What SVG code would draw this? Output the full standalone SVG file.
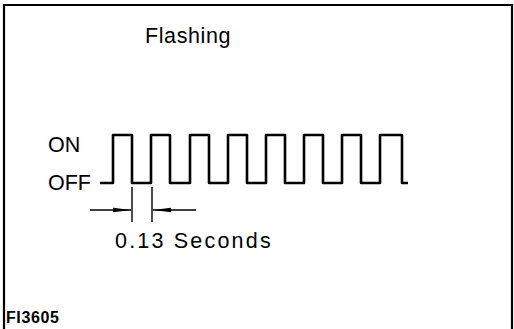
<svg xmlns="http://www.w3.org/2000/svg" width="514" height="329" viewBox="0 0 514 329">
<style>
.t{font-family:"Liberation Sans",Arial,sans-serif;fill:#000}
.w{fill:none;stroke:#000;stroke-width:2.6;stroke-linejoin:round}
.d{fill:none;stroke:#000;stroke-width:1.4}
</style>
<defs>
<marker id="ah" markerWidth="18" markerHeight="7" refX="18" refY="3.5" orient="auto" markerUnits="userSpaceOnUse">
<path d="M0,1.2 L18,3.5 L0,5.8 Z" fill="#000"/>
</marker>
</defs>
<rect x="0" y="0" width="514" height="329" fill="#fff"/>
<path d="M4,329 V5 H512 V329" fill="none" stroke="#000" stroke-width="2.2"/>
<g id="title"><text class="t" x="145" y="43" font-size="21.5" letter-spacing="0.6">Flashing</text></g>
<g id="on-label"><text class="t" x="48" y="152" font-size="21.5">ON</text></g>
<g id="off-label"><text class="t" x="48" y="190" font-size="21.5">OFF</text></g>
<g id="waveform">
<path class="w" d="M100,183 H113 V135 H132 V183 H151 V135 H170 V183 H190 V135 H209 V183 H228 V135 H247 V183 H266 V135 H285 V183 H304 V135 H323 V183 H342 V135 H361 V183 H380 V135 H402 V183 H408"/>
</g>
<g id="connectors">
<line class="d" x1="132" y1="187" x2="132" y2="222"/>
<line class="d" x1="152" y1="187" x2="152" y2="222"/>
<line class="d" x1="90" y1="210" x2="131" y2="210" marker-end="url(#ah)"/>
<line class="d" x1="196" y1="210" x2="153" y2="210" marker-end="url(#ah)"/>
</g>
<g id="dimension-label"><text class="t" x="115" y="248" font-size="21.5" letter-spacing="2.2">0.13 Seconds</text></g>
<g id="figure-id"><text class="t" x="6" y="323" font-size="16" font-weight="bold" letter-spacing="0.6">FI3605</text></g>
</svg>
